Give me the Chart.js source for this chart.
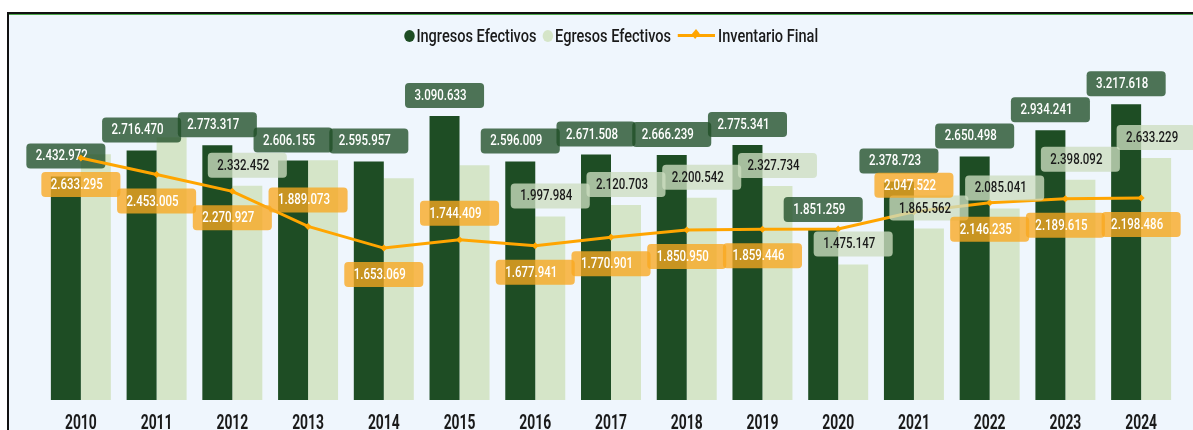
<!DOCTYPE html>
<html><head><meta charset="utf-8">
<script src="https://cdn.jsdelivr.net/npm/chart.js@4.4.1/dist/chart.umd.min.js"></script>
<style>
html,body{margin:0;padding:0;background:#fff;}
#wrap{position:relative;width:1193px;height:430px;overflow:hidden;}
#frame{position:absolute;left:7px;top:12px;right:0;bottom:0;background:#EFF6FD;border-top:2px solid #111;border-left:2px solid #111;}
#frame:before{content:'';position:absolute;left:0;right:0;top:0;height:1px;background:#4CA64C;}
#c{position:absolute;left:0;top:0;}
#legend{position:absolute;left:611px;top:25px;display:flex;align-items:center;font:500 18px 'Roboto',sans-serif;color:#1a1a1a;white-space:nowrap;transform-origin:0 50%;}
#legend .it{display:flex;align-items:center;margin:0 4px;}
#legend .dot{display:inline-block;width:13px;height:12px;border-radius:50%;margin-right:2px;}
#legend .ln{position:relative;display:inline-block;width:46px;height:3px;background:#FFA500;margin-right:4px;}
#legend .ln i{position:absolute;left:18px;top:-4px;width:8px;height:8px;background:#FFA500;transform:rotate(45deg) scaleX(0.8);}
</style></head>
<body>
<div id="wrap">
  <div id="frame"></div>
  <canvas id="c" width="1193" height="430"></canvas>
  <div id="legend">
    <span class="it"><span class="dot" style="background:#1E4D24"></span>Ingresos Efectivos</span>
    <span class="it"><span class="dot" style="background:#D5E5C8"></span>Egresos Efectivos</span>
    <span class="it"><span class="ln"><i></i></span>Inventario Final</span>
  </div>
</div>
<script>
const years = ['2010','2011','2012','2013','2014','2015','2016','2017','2018','2019','2020','2021','2022','2023','2024'];
const ingresos = [2432972,2716470,2773317,2606155,2595957,3090633,2596009,2671508,2666239,2775341,1851259,2378723,2650498,2934241,3217618];
const egresos = [2674000,2859000,2332452,2610000,2413000,2554000,1997984,2120703,2200542,2327734,1475147,1865562,2085041,2398092,2633229];
const inventario = [2633295,2453005,2270927,1889073,1653069,1744409,1677941,1770901,1850950,1859446,1862000,2047522,2146235,2189615,2198486];
// which labels are shown / where the line labels sit
const showEgresosLabel = [false,false,true,false,false,false,true,true,true,true,true,true,true,true,true];
const showInvLabel = [true,true,true,true,true,true,true,true,true,true,false,true,true,true,true];
const invLabelAbove = [false,false,false,true,false,true,false,false,false,false,false,true,false,false,false];

// legend: condense horizontally to reference width, centred on plot area
(function(){
  const lg = document.getElementById('legend');
  const w = lg.offsetWidth;
  const target = 420;
  const s = target / w;
  lg.style.transform = 'translateX(' + (-target/2) + 'px) scaleX(' + s + ')';
})();

const FONT = "'Roboto',sans-serif";
const LABEL_SX = 0.82, TICK_SX = 0.66;
function fmt(n){ return String(Math.round(n)).replace(/\B(?=(\d{3})+(?!\d))/g,'.'); }

function drawBox(ctx, cx, top, text, bg, fg){
  ctx.font = '500 14px ' + FONT;
  const tw = ctx.measureText(text).width * LABEL_SX;
  const w = tw + 27, h = 25;
  const left = cx - w/2;
  ctx.fillStyle = bg;
  ctx.beginPath();
  ctx.roundRect(left, top, w, h, 4);
  ctx.fill();
  ctx.fillStyle = fg;
  ctx.textAlign = 'center';
  ctx.textBaseline = 'middle';
  ctx.save();
  ctx.translate(cx - 4, top + h/2 + 1);
  ctx.scale(LABEL_SX, 1);
  ctx.fillText(text, 0, 0);
  ctx.restore();
}
function drawBarLabels(chart, di, bg, fg, show){
  const ctx = chart.ctx;
  const meta = chart.getDatasetMeta(di);
  const data = chart.data.datasets[di].data;
  ctx.save();
  meta.data.forEach((el,i)=>{
    if (show && !show[i]) return;
    drawBox(ctx, el.x, el.y - 8 - 25, fmt(data[i]), bg, fg);
  });
  ctx.restore();
}
function drawLineLabels(chart, di){
  const ctx = chart.ctx;
  const meta = chart.getDatasetMeta(di);
  const data = chart.data.datasets[di].data;
  ctx.save();
  meta.data.forEach((el,i)=>{
    if (!showInvLabel[i]) return;
    const top = invLabelAbove[i] ? el.y - 14 - 25 : el.y + 14;
    drawBox(ctx, el.x, top, fmt(data[i]), 'rgba(248,168,32,0.78)', '#ffffff');
  });
  ctx.restore();
}
const labelPlugin = {
  id:'boxLabels',
  beforeDatasetDraw(chart,args){
    if (args.index === 2) drawBarLabels(chart, 0, 'rgba(31,78,38,0.78)', '#ffffff', null);
  },
  afterDatasetsDraw(chart){
    drawBarLabels(chart, 1, 'rgba(205,222,192,0.78)', '#1a1a1a', showEgresosLabel);
    drawLineLabels(chart, 2);
  },
  afterDraw(chart){
    // condensed category tick labels, positioned by the x scale
    const ctx = chart.ctx, xs = chart.scales.x;
    ctx.save();
    ctx.fillStyle = '#1a1a1a';
    ctx.font = 'bold 21px ' + FONT;
    ctx.textAlign = 'center';
    ctx.textBaseline = 'alphabetic';
    xs.ticks.forEach((t,i)=>{
      const x = xs.getPixelForTick(i);
      ctx.save();
      ctx.translate(x, 428.5);
      ctx.scale(TICK_SX, 1);
      ctx.fillText(chart.data.labels[i], 0, 0);
      ctx.restore();
    });
    ctx.restore();
  }
};

new Chart(document.getElementById('c'), {
  data: {
    labels: years,
    datasets: [
      { type:'bar', label:'Ingresos Efectivos', data: ingresos, backgroundColor:'#1E4D24', order:1, barPercentage:1, categoryPercentage:0.792 },
      { type:'bar', label:'Egresos Efectivos', data: egresos, backgroundColor:'#D5E5C8', order:1, barPercentage:1, categoryPercentage:0.792 },
      { type:'line', label:'Inventario Final', data: inventario, borderColor:'#FFA500', backgroundColor:'#FFA500', borderWidth:3, pointStyle:'rectRot', pointRadius:3.5, pointBorderWidth:0, tension:0, order:0 }
    ]
  },
  options: {
    responsive:false,
    animation:false,
    devicePixelRatio:1,
    layout:{ padding:{ left:43, right:14, top:60, bottom:0 } },
    plugins:{ legend:{display:false}, tooltip:{enabled:false} },
    scales:{
      x:{
        grid:{display:false, drawTicks:false},
        border:{display:false},
        ticks:{ display:false },
        afterFit(s){ s.height = 30; }
      },
      y:{ display:false, min:0, max:3700000 }
    }
  },
  plugins:[labelPlugin]
});
</script>
</body></html>
